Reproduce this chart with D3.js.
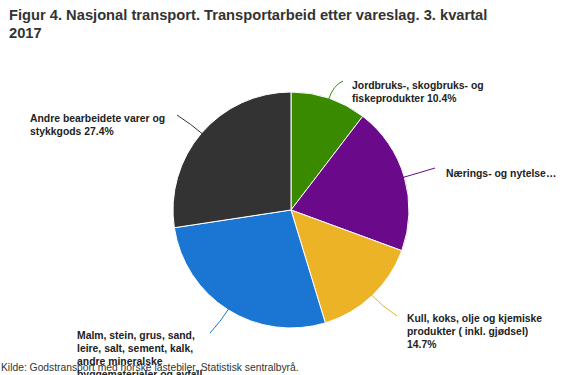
<!DOCTYPE html>
<html>
<head>
<meta charset="utf-8">
<script src="https://cdn.jsdelivr.net/npm/d3@7"></script>
<style>
  body { margin: 0; background: #fff; }
  text { font-family: "Liberation Sans", Arial, sans-serif; }
</style>
</head>
<body>
<div id="canvas"></div>
<script>
// data, clockwise from 12 o'clock
var categories = [
    "Jordbruks-, skogbruks- og fiskeprodukter",
    "Nærings- og nytelsesmidler",
    "Kull, koks, olje og kjemiske produkter ( inkl. gjødsel)",
    "Malm, stein, grus, sand, leire, salt, sement, kalk, andre mineralske byggematerialer og avfall",
    "Andre bearbeidete varer og stykkgods"
]
var shares = [10.4, 20.2, 14.7, 27.3, 27.4]
var colors = ["#3a8a00", "#6a0a8a", "#ebb325", "#1a76d2", "#333333"]

// label lines as they are wrapped in the picture
var labelLines = [
    ["Jordbruks-, skogbruks- og", "fiskeprodukter 10.4%"],
    ["Nærings- og nytelse…"],
    ["Kull, koks, olje og kjemiske", "produkter ( inkl. gjødsel)", "14.7%"],
    ["Malm, stein, grus, sand,", "leire, salt, sement, kalk,", "andre mineralske", "byggematerialer og avfall"],
    ["Andre bearbeidete varer og", "stykkgods 27.4%"]
]

var width = 563
var height = 375
var cx = 291
var cy = 210
var radius = 118

var svg = d3.select("#canvas")
    .append("svg")
    .attr("width", width)
    .attr("height", height)

// title
var title = svg.append("text")
    .attr("x", 9)
    .attr("y", 20)
    .attr("font-size", 14.7)
    .attr("font-weight", "bold")
    .attr("fill", "#333")
title.append("tspan").attr("x", 9).attr("dy", 0)
    .text("Figur 4. Nasjonal transport. Transportarbeid etter vareslag. 3. kvartal")
title.append("tspan").attr("x", 9).attr("dy", 18).text("2017")

var dataset = categories.map(function (c, i) {
    return { name: c, value: shares[i], color: colors[i], lines: labelLines[i] }
})

var pie = d3.pie().sort(null).value(function (d) { return d.value })
var arc = d3.arc().innerRadius(0).outerRadius(radius)
var arcs = pie(dataset)

var g = svg.append("g").attr("transform", `translate(${cx},${cy})`)

g.selectAll(".slice")
    .data(arcs)
    .enter()
    .append("path")
    .attr("class", "slice")
    .attr("d", arc)
    .attr("fill", function (d) { return d.data.color })
    .attr("stroke", "#fff")
    .attr("stroke-width", 1)

// label anchors (text start, first line centre), leader end point
var labelPos = [
    { x: 352, y: 85, lx: 343, ly: 81 },
    { x: 446, y: 173, lx: 435, ly: 168 },
    { x: 407, y: 318, lx: 397, ly: 316 },
    { x: 77, y: 335, lx: 210, ly: 333 },
    { x: 30, y: 118, lx: 177, ly: 115 }
]

var labels = svg.append("g").attr("class", "labels")

arcs.forEach(function (d, i) {
    var mid = (d.startAngle + d.endAngle) / 2
    // start leader a little inside the rim
    var sx = cx + Math.sin(mid) * (radius - 2)
    var sy = cy - Math.cos(mid) * (radius - 2)
    var p = labelPos[i]
    var ox = cx + Math.sin(mid) * (radius + 14)
    var oy = cy - Math.cos(mid) * (radius + 14)
    labels.append("path")
        .attr("d", `M${sx},${sy} Q${ox},${oy} ${p.lx},${p.ly}`)
        .attr("fill", "none")
        .attr("stroke", d.data.color)
        .attr("stroke-width", 1)

    var t = labels.append("text")
        .attr("font-size", 10.4)
        .attr("font-weight", "bold")
        .attr("fill", "#222")
    d.data.lines.forEach(function (line, j) {
        t.append("tspan")
            .attr("x", p.x)
            .attr("y", p.y + 4 + j * 13)
            .text(line)
    })
})

// source line
svg.append("text")
    .attr("x", 1)
    .attr("y", 371)
    .attr("font-size", 10.3)
    .attr("fill", "#333")
    .text("Kilde: Godstransport med norske lastebiler, Statistisk sentralbyrå.")
</script>
</body>
</html>
